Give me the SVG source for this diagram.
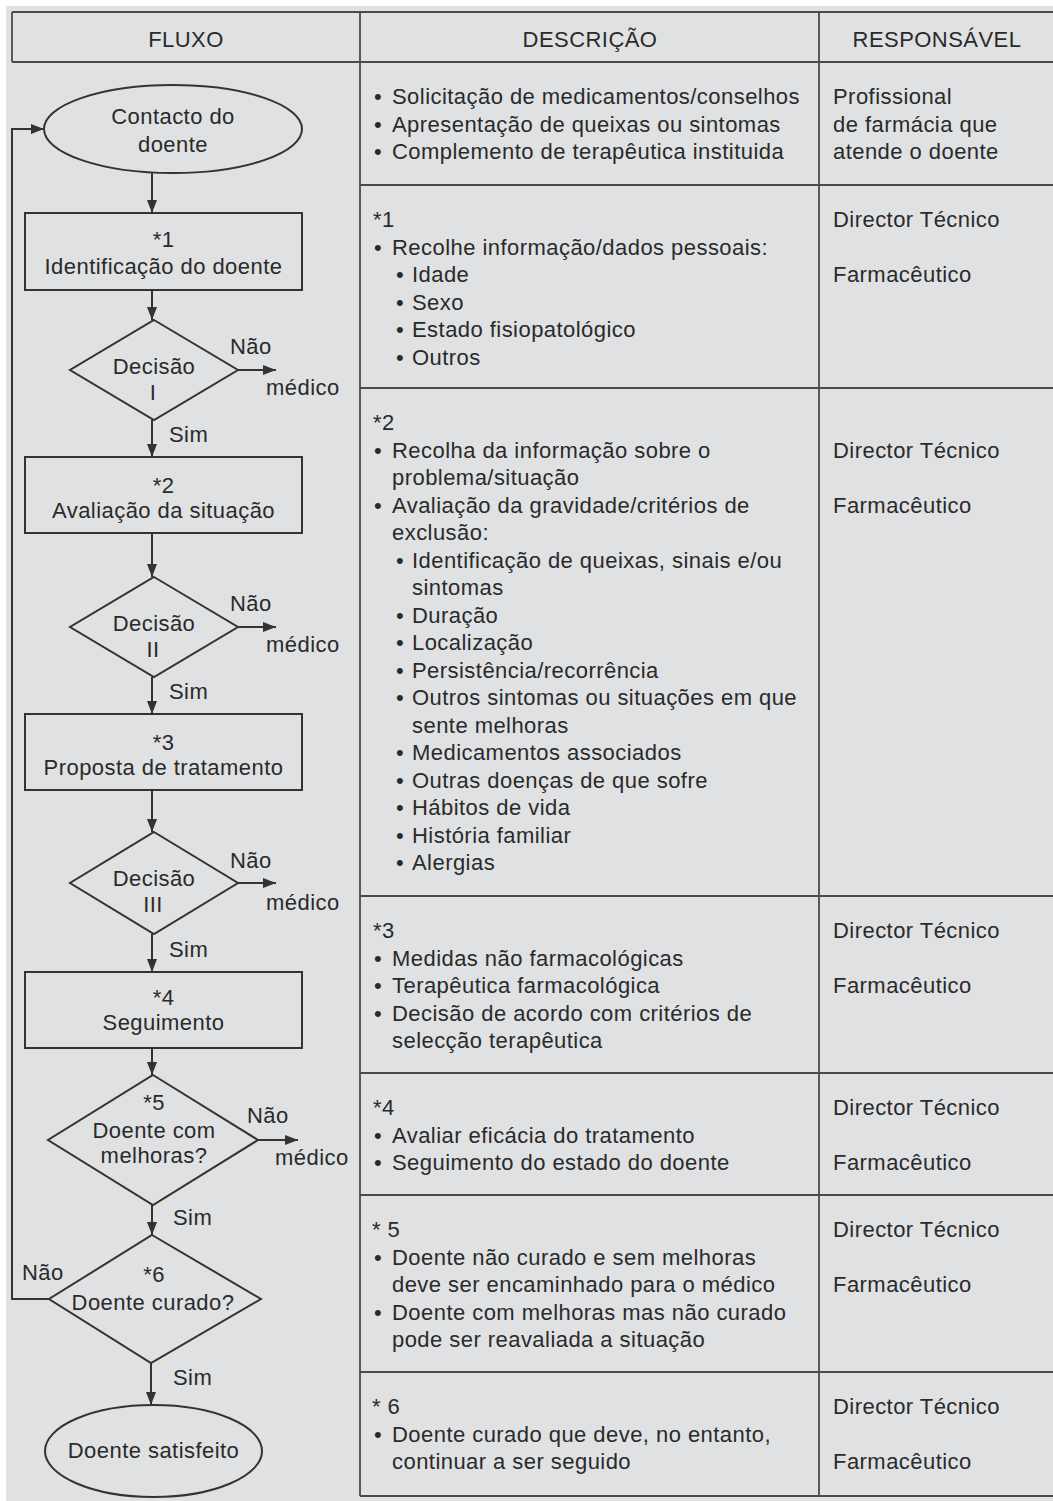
<svg xmlns="http://www.w3.org/2000/svg" width="1053" height="1501" viewBox="0 0 1053 1501">
<style>
text{font-family:"Liberation Sans",Arial,sans-serif;font-size:22px;letter-spacing:0.45px;fill:#2a2a2a}
.c{text-anchor:middle}
.shape{fill:none;stroke:#333;stroke-width:2}
.grid{stroke:#4a4a4a;stroke-width:1.8;fill:none}
.conn{stroke:#333;stroke-width:2;fill:none}
</style>
<defs>
<marker id="arr" markerUnits="userSpaceOnUse" markerWidth="14" markerHeight="11" refX="13" refY="5.5" orient="auto">
<path d="M0,0.5 L13,5.5 L0,10.5 z" fill="#333"/>
</marker>
</defs>
<rect x="0" y="0" width="1053" height="1501" fill="#ffffff"/>
<rect x="6" y="6" width="1047" height="1495" fill="#dfe1e3"/>

<g id="table">
<line class="grid" x1="12" y1="12" x2="1053" y2="12"/>
<line class="grid" x1="12" y1="62" x2="1053" y2="62"/>
<line class="grid" x1="12" y1="12" x2="12" y2="62"/>
<line class="grid" x1="360" y1="12" x2="360" y2="1496"/>
<line class="grid" x1="819" y1="12" x2="819" y2="1496"/>
<line class="grid" x1="360" y1="185" x2="1053" y2="185"/>
<line class="grid" x1="360" y1="388" x2="1053" y2="388"/>
<line class="grid" x1="360" y1="896" x2="1053" y2="896"/>
<line class="grid" x1="360" y1="1073" x2="1053" y2="1073"/>
<line class="grid" x1="360" y1="1195" x2="1053" y2="1195"/>
<line class="grid" x1="360" y1="1372" x2="1053" y2="1372"/>
<line class="grid" x1="360" y1="1496" x2="1053" y2="1496"/>
<text class="c" x="186" y="47">FLUXO</text>
<text class="c" x="590" y="47">DESCRIÇÃO</text>
<text class="c" x="937" y="47">RESPONSÁVEL</text>
</g>

<g id="row0">
<text x="374" y="104">•</text><text x="392" y="104">Solicitação de medicamentos/conselhos</text>
<text x="374" y="131.5">•</text><text x="392" y="131.5">Apresentação de queixas ou sintomas</text>
<text x="374" y="159">•</text><text x="392" y="159">Complemento de terapêutica instituida</text>
<text x="833" y="104">Profissional</text>
<text x="833" y="131.5">de farmácia que</text>
<text x="833" y="159">atende o doente</text>
</g>

<g id="row1">
<text x="373" y="227">*1</text>
<text x="374" y="254.5">•</text><text x="392" y="254.5">Recolhe informação/dados pessoais:</text>
<text x="396" y="282">•</text><text x="412" y="282">Idade</text>
<text x="396" y="309.5">•</text><text x="412" y="309.5">Sexo</text>
<text x="396" y="337">•</text><text x="412" y="337">Estado fisiopatológico</text>
<text x="396" y="364.5">•</text><text x="412" y="364.5">Outros</text>
<text x="833" y="227">Director Técnico</text>
<text x="833" y="282">Farmacêutico</text>
</g>

<g id="row2">
<text x="373" y="430">*2</text>
<text x="374" y="457.5">•</text><text x="392" y="457.5">Recolha da informação sobre o</text>
<text x="392" y="485">problema/situação</text>
<text x="374" y="512.5">•</text><text x="392" y="512.5">Avaliação da gravidade/critérios de</text>
<text x="392" y="540">exclusão:</text>
<text x="396" y="567.5">•</text><text x="412" y="567.5">Identificação de queixas, sinais e/ou</text>
<text x="412" y="595">sintomas</text>
<text x="396" y="622.5">•</text><text x="412" y="622.5">Duração</text>
<text x="396" y="650">•</text><text x="412" y="650">Localização</text>
<text x="396" y="677.5">•</text><text x="412" y="677.5">Persistência/recorrência</text>
<text x="396" y="705">•</text><text x="412" y="705">Outros sintomas ou situações em que</text>
<text x="412" y="732.5">sente melhoras</text>
<text x="396" y="760">•</text><text x="412" y="760">Medicamentos associados</text>
<text x="396" y="787.5">•</text><text x="412" y="787.5">Outras doenças de que sofre</text>
<text x="396" y="815">•</text><text x="412" y="815">Hábitos de vida</text>
<text x="396" y="842.5">•</text><text x="412" y="842.5">História familiar</text>
<text x="396" y="870">•</text><text x="412" y="870">Alergias</text>
<text x="833" y="457.5">Director Técnico</text>
<text x="833" y="512.5">Farmacêutico</text>
</g>

<g id="row3">
<text x="373" y="938">*3</text>
<text x="374" y="965.5">•</text><text x="392" y="965.5">Medidas não farmacológicas</text>
<text x="374" y="993">•</text><text x="392" y="993">Terapêutica farmacológica</text>
<text x="374" y="1020.5">•</text><text x="392" y="1020.5">Decisão de acordo com critérios de</text>
<text x="392" y="1048">selecção terapêutica</text>
<text x="833" y="938">Director Técnico</text>
<text x="833" y="993">Farmacêutico</text>
</g>

<g id="row4">
<text x="373" y="1115">*4</text>
<text x="374" y="1142.5">•</text><text x="392" y="1142.5">Avaliar eficácia do tratamento</text>
<text x="374" y="1170">•</text><text x="392" y="1170">Seguimento do estado do doente</text>
<text x="833" y="1115">Director Técnico</text>
<text x="833" y="1170">Farmacêutico</text>
</g>

<g id="row5">
<text x="372" y="1237">* 5</text>
<text x="374" y="1264.5">•</text><text x="392" y="1264.5">Doente não curado e sem melhoras</text>
<text x="392" y="1292">deve ser encaminhado para o médico</text>
<text x="374" y="1319.5">•</text><text x="392" y="1319.5">Doente com melhoras mas não curado</text>
<text x="392" y="1347">pode ser reavaliada a situação</text>
<text x="833" y="1237">Director Técnico</text>
<text x="833" y="1292">Farmacêutico</text>
</g>

<g id="row6">
<text x="372" y="1414">* 6</text>
<text x="374" y="1441.5">•</text><text x="392" y="1441.5">Doente curado que deve, no entanto,</text>
<text x="392" y="1469">continuar a ser seguido</text>
<text x="833" y="1414">Director Técnico</text>
<text x="833" y="1469">Farmacêutico</text>
</g>

<g id="connectors">
<line class="conn" x1="152" y1="173" x2="152" y2="213" marker-end="url(#arr)"/>
<line class="conn" x1="152" y1="290" x2="152" y2="320" marker-end="url(#arr)"/>
<line class="conn" x1="152" y1="420" x2="152" y2="457" marker-end="url(#arr)"/>
<line class="conn" x1="152" y1="533" x2="152" y2="577" marker-end="url(#arr)"/>
<line class="conn" x1="152" y1="677" x2="152" y2="714" marker-end="url(#arr)"/>
<line class="conn" x1="152" y1="790" x2="152" y2="832" marker-end="url(#arr)"/>
<line class="conn" x1="152" y1="934" x2="152" y2="972" marker-end="url(#arr)"/>
<line class="conn" x1="152" y1="1048" x2="152" y2="1075" marker-end="url(#arr)"/>
<line class="conn" x1="152" y1="1205" x2="152" y2="1235" marker-end="url(#arr)"/>
<line class="conn" x1="151" y1="1363" x2="151" y2="1405" marker-end="url(#arr)"/>
<line class="conn" x1="238" y1="370" x2="276" y2="370" marker-end="url(#arr)"/>
<line class="conn" x1="238" y1="627" x2="276" y2="627" marker-end="url(#arr)"/>
<line class="conn" x1="238" y1="883" x2="276" y2="883" marker-end="url(#arr)"/>
<line class="conn" x1="258" y1="1140" x2="298" y2="1140" marker-end="url(#arr)"/>
<polyline class="conn" points="49,1299 12,1299 12,129 44,129" marker-end="url(#arr)"/>
<text x="230" y="354">Não</text>
<text x="266" y="395">médico</text>
<text x="169" y="442">Sim</text>
<text x="230" y="611">Não</text>
<text x="266" y="652">médico</text>
<text x="169" y="699">Sim</text>
<text x="230" y="868">Não</text>
<text x="266" y="910">médico</text>
<text x="169" y="957">Sim</text>
<text x="247" y="1123">Não</text>
<text x="275" y="1165">médico</text>
<text x="173" y="1225">Sim</text>
<text x="22" y="1280">Não</text>
<text x="173" y="1385">Sim</text>
</g>

<g id="start">
<ellipse class="shape" cx="173" cy="129" rx="129" ry="44"/>
<text class="c" x="173" y="124">Contacto do</text>
<text class="c" x="173" y="152">doente</text>
</g>
<g id="step1">
<rect class="shape" x="25" y="213" width="277" height="77"/>
<text class="c" x="163.5" y="247">*1</text>
<text class="c" x="163.5" y="274">Identificação do doente</text>
</g>
<g id="decision1">
<polygon class="shape" points="154,320 238,370 154,420 70,370"/>
<text class="c" x="154" y="374">Decisão</text>
<text class="c" x="153" y="400">I</text>
</g>
<g id="step2">
<rect class="shape" x="25" y="457" width="277" height="76"/>
<text class="c" x="163.5" y="493">*2</text>
<text class="c" x="163.5" y="518">Avaliação da situação</text>
</g>
<g id="decision2">
<polygon class="shape" points="154,577 238,627 154,677 70,627"/>
<text class="c" x="154" y="631">Decisão</text>
<text class="c" x="153" y="657">II</text>
</g>
<g id="step3">
<rect class="shape" x="25" y="714" width="277" height="76"/>
<text class="c" x="163.5" y="750">*3</text>
<text class="c" x="163.5" y="775">Proposta de tratamento</text>
</g>
<g id="decision3">
<polygon class="shape" points="154,832 238,883 154,934 70,883"/>
<text class="c" x="154" y="886">Decisão</text>
<text class="c" x="153" y="912">III</text>
</g>
<g id="step4">
<rect class="shape" x="25" y="972" width="277" height="76"/>
<text class="c" x="163.5" y="1005">*4</text>
<text class="c" x="163.5" y="1030">Seguimento</text>
</g>
<g id="decision5">
<polygon class="shape" points="153,1075 258,1140 153,1205 48,1140"/>
<text class="c" x="154" y="1110">*5</text>
<text class="c" x="154" y="1138">Doente com</text>
<text class="c" x="154" y="1163">melhoras?</text>
</g>
<g id="decision6">
<polygon class="shape" points="152,1235 261,1299 151,1363 49,1299"/>
<text class="c" x="154" y="1282">*6</text>
<text class="c" x="153" y="1310">Doente curado?</text>
</g>
<g id="end">
<ellipse class="shape" cx="153.5" cy="1451" rx="108.5" ry="46"/>
<text class="c" x="153.5" y="1458">Doente satisfeito</text>
</g>
</svg>
